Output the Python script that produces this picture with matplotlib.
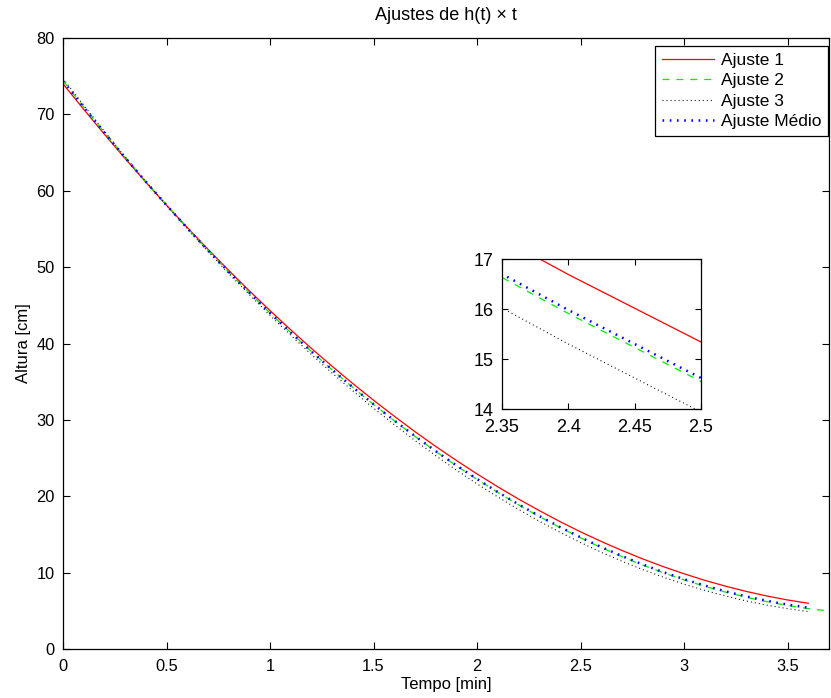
import numpy as np
import matplotlib
matplotlib.use("Agg")
import matplotlib.pyplot as plt

plt.rcParams['font.family'] = ['Liberation Sans', 'DejaVu Sans']
plt.rcParams['lines.scale_dashes'] = False

# ---- data (height in cm vs time in min) ----
t = [0.0, 0.1, 0.2, 0.3, 0.4, 0.5, 0.6, 0.7, 0.8, 0.9, 1.0, 1.1, 1.2, 1.3,
     1.4, 1.5, 1.6, 1.7, 1.8, 1.9, 2.0, 2.1, 2.2, 2.3, 2.4, 2.5, 2.6, 2.7,
     2.8, 2.9, 3.0, 3.1, 3.2, 3.3, 3.4, 3.5, 3.6]
t2 = t + [3.7]

ajuste1 = [74.00, 70.66, 67.40, 64.22, 61.12, 58.11, 55.19, 52.34, 49.58,
           46.90, 44.31, 41.79, 39.36, 37.02, 34.75, 32.57, 30.48, 28.46,
           26.53, 24.69, 22.92, 21.24, 19.64, 18.13, 16.69, 15.34, 14.08,
           12.90, 11.80, 10.78, 9.85, 8.99, 8.23, 7.54, 6.94, 6.42, 5.99]

ajuste2 = [74.40, 70.97, 67.63, 64.37, 61.20, 58.12, 55.12, 52.21, 49.38,
           46.65, 43.99, 41.43, 38.95, 36.55, 34.24, 32.02, 29.89, 27.84,
           25.88, 24.00, 22.21, 20.50, 18.89, 17.35, 15.91, 14.55, 13.28,
           12.09, 10.99, 9.98, 9.05, 8.21, 7.45, 6.78, 6.20, 5.70, 5.29, 4.97]

ajuste3 = [74.70, 71.20, 67.78, 64.46, 61.22, 58.08, 55.02, 52.05, 49.18,
           46.39, 43.69, 41.08, 38.56, 36.13, 33.79, 31.54, 29.38, 27.30,
           25.32, 23.43, 21.62, 19.91, 18.28, 16.74, 15.30, 13.94, 12.67,
           11.49, 10.40, 9.40, 8.49, 7.67, 6.94, 6.29, 5.74, 5.28, 4.90]

ajuste_medio = [74.37, 70.95, 67.61, 64.35, 61.19, 58.11, 55.11, 52.21, 49.39,
                46.65, 44.00, 41.44, 38.96, 36.57, 34.27, 32.05, 29.92, 27.88,
                25.92, 24.04, 22.26, 20.56, 18.94, 17.42, 15.98, 14.62, 13.35,
                12.17, 11.07, 10.06, 9.14, 8.30, 7.55, 6.88, 6.31, 5.81, 5.41]

labels = ["Ajuste 1", "Ajuste 2", "Ajuste 3", "Ajuste Médio"]
xticks_main = [0, 0.5, 1, 1.5, 2, 2.5, 3, 3.5]
xticklabels_main = ["0", "0.5", "1", "1.5", "2", "2.5", "3", "3.5"]
yticks_main = [0, 10, 20, 30, 40, 50, 60, 70, 80]
xticks_inset = [2.35, 2.4, 2.45, 2.5]
xticklabels_inset = ["2.35", "2.4", "2.45", "2.5"]
yticks_inset = [14, 15, 16, 17]

styles = [
    dict(color='#ff0000', lw=0.9, ls='-'),
    dict(color='#00ee00', lw=0.9, ls=(0, (5.0, 5.0))),
    dict(color='#000000', lw=0.8, ls=(0, (0.7, 2.2))),
    dict(color='#0000ff', lw=1.8, ls=(0, (1.2, 4.0))),
]
series = [(t, ajuste1), (t2, ajuste2), (t, ajuste3), (t, ajuste_medio)]

fig = plt.figure(figsize=(8.31, 6.98), dpi=100)
ax = fig.add_axes([63/831, 1 - 649/698, 766/831, 611/698])

for (x, y), lab, st in zip(series, labels, styles):
    ax.plot(x, y, label=lab, **st)

ax.set_xlim(0, 3.7)
ax.set_ylim(0, 80)
ax.set_xticks(xticks_main)
ax.set_xticklabels(xticklabels_main)
ax.set_yticks(yticks_main)
ax.tick_params(direction='in', top=True, right=True, length=5.3, width=0.8,
               labelsize=11.8)
ax.tick_params(axis='x', pad=7.5)
ax.tick_params(axis='y', pad=6)
for s in ax.spines.values():
    s.set_linewidth(0.9)
ax.set_xlabel("Tempo [min]", fontsize=12, labelpad=2)
ax.set_ylabel("Altura [cm]", fontsize=12, labelpad=4)
ax.set_title("Ajustes de h(t) \u00d7 t", fontsize=13, pad=13)

leg = ax.legend(loc='upper right', bbox_to_anchor=(828/831, 1 - 46/698),
                bbox_transform=fig.transFigure, borderaxespad=0,
                fontsize=12.5, handlelength=3.0, handletextpad=0.35,
                labelspacing=0.3, borderpad=0.4, fancybox=False,
                framealpha=1, edgecolor='black')
leg.get_frame().set_linewidth(0.9)

# inset
axi = fig.add_axes([502/831, 1 - 409/698, 199/831, 150/698])
for (x, y), st in zip(series, styles):
    axi.plot(x, y, **st)
axi.set_xlim(2.35, 2.5)
axi.set_ylim(14, 17)
axi.set_xticks(xticks_inset)
axi.set_xticklabels(xticklabels_inset)
axi.set_yticks(yticks_inset)
axi.tick_params(direction='in', top=True, right=True, length=4, width=0.8,
                labelsize=13)
axi.tick_params(axis='x', pad=7)
axi.tick_params(axis='y', pad=6)
for s in axi.spines.values():
    s.set_linewidth(0.9)

fig.savefig("out.png", dpi=100)
